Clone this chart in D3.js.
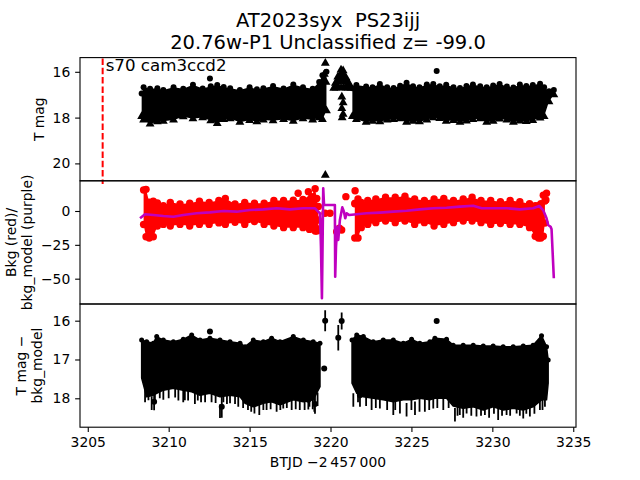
<!DOCTYPE html>
<html><head><meta charset="utf-8">
<script src="https://cdn.jsdelivr.net/npm/d3@7"></script>
<style>body{margin:0;background:#fff} svg{display:block} text{font-family:"DejaVu Sans",sans-serif;white-space:pre}</style>
</head><body>
<svg id="c" width="640" height="480"></svg>
<script>
// ---------------- data ----------------
const titleLines = ["AT2023syx  PS23ijj", "20.76w-P1 Unclassified z= -99.0"];
const sectorLabel = "s70 cam3ccd2";
const xTicks = [3205, 3210, 3215, 3220, 3225, 3230, 3235];
const y1Ticks = [16, 18, 20];
const y2Ticks = [-50, -25, 0];
const y3Ticks = [16, 17, 18];
const xLimits = [3204.52, 3235.17];
const y1Limits = [15.38, 20.76];
const y2Limits = [-68.7, 22.3];
const y3Limits = [15.57, 18.745];

// dashed sector-start line
const vlineT = 3205.92;
const vlineMag = [15.42, 20.9];

// panel 1 : T mag, dense band envelope (bright edge / faint edge)
const p1A_t   = [3208.33, 3208.45, 3208.85, 3209.3, 3209.67, 3210.3, 3210.9, 3211.5, 3212.1, 3212.6, 3213.0, 3213.4, 3213.8, 3214.4, 3215.0, 3215.45, 3215.85, 3216.45, 3217.1, 3217.7, 3218.3, 3218.9, 3219.3, 3219.5, 3219.75];
const p1A_top = [16.95, 16.68, 16.74, 16.72, 16.79, 16.68, 16.74, 16.57, 16.73, 16.63, 16.58, 16.66, 16.72, 16.8, 16.68, 16.76, 16.72, 16.62, 16.73, 16.55, 16.67, 16.74, 16.45, 16.15, 16.0];
const p1A_bot = [17.95, 18.1, 18.28, 18.18, 18.16, 18.1, 17.96, 18.05, 18.0, 18.14, 18.26, 18.08, 18.05, 18.2, 18.12, 18.18, 18.1, 18.14, 18.08, 18.16, 18.05, 18.1, 18.0, 18.08, 17.7];
const p1B_t   = [3221.35, 3221.6, 3222.2, 3222.6, 3223.05, 3223.5, 3223.9, 3224.3, 3224.7, 3225.1, 3225.5, 3225.95, 3226.35, 3226.75, 3227.15, 3227.6, 3228.0, 3228.4, 3228.8, 3229.25, 3229.65, 3230.05, 3230.45, 3230.9, 3231.3, 3231.7, 3232.1, 3232.5, 3232.95, 3233.2, 3233.5, 3233.8];
const p1B_top = [16.72, 16.58, 16.64, 16.68, 16.53, 16.67, 16.71, 16.61, 16.48, 16.63, 16.68, 16.56, 16.53, 16.63, 16.57, 16.68, 16.71, 16.62, 16.56, 16.63, 16.68, 16.6, 16.53, 16.64, 16.69, 16.56, 16.62, 16.58, 16.52, 16.68, 16.85, 16.8];
const p1B_bot = [17.95, 18.08, 18.2, 18.16, 18.18, 18.1, 18.08, 18.05, 18.2, 18.16, 18.18, 18.1, 18.0, 18.04, 18.16, 18.12, 18.2, 18.15, 18.08, 18.05, 18.2, 18.16, 18.06, 18.1, 18.2, 18.15, 18.17, 18.12, 18.02, 17.95, 17.3, 17.0];
// panel 1 : isolated upper limits (triangles) and detections (dots)
const triT   = [3219.68, 3219.68, 3219.62, 3219.72,
                3220.65, 3220.78,
                3220.45, 3220.58, 3220.7, 3220.83, 3220.95,
                3220.3, 3220.42, 3220.55, 3220.68, 3220.8, 3220.92, 3221.05, 3221.15,
                3220.2, 3220.35, 3220.5, 3220.65, 3220.8, 3220.95, 3221.1, 3221.25,
                3220.7, 3220.78, 3220.7, 3220.78, 3220.72];
const triMag = [15.62, 20.51, 16.1, 16.45,
                15.92, 15.95,
                16.22, 16.15, 16.12, 16.15, 16.25,
                16.5, 16.42, 16.4, 16.38, 16.4, 16.42, 16.45, 16.52,
                16.72, 16.7, 16.68, 16.7, 16.68, 16.7, 16.7, 16.72,
                17.1, 17.35, 17.6, 17.85, 18.0];
const p1DotT   = [3212.55, 3226.56];
const p1DotMag = [16.29, 15.97];

// panel 2 : background flux (red) envelope
const p2A_t   = [3208.45, 3208.6, 3208.8, 3209.05, 3209.3, 3209.67, 3210.1, 3210.7, 3211.3, 3211.9, 3212.5, 3213.1, 3213.5, 3214.1, 3214.7, 3215.3, 3215.9, 3216.5, 3217.1, 3217.7, 3218.3, 3218.7, 3219.05, 3219.15, 3219.25];
const p2A_top = [15.5, 16.0, 6.5, 7.2, 5.9, 4.0, 6.4, 5.2, 5.8, 7.3, 6.4, 7.7, 9.3, 5.2, 6.4, 5.8, 5.8, 7.7, 7.7, 8.0, 8.5, 8.3, 16.5, 9.3, 3.3];
const p2A_bot = [-10.0, -19.0, -20.0, -19.0, -11.1, -9.9, -11.1, -9.9, -11.1, -9.9, -9.9, -8.8, -9.9, -8.3, -9.9, -7.8, -9.9, -11.1, -12.3, -12.3, -12.3, -13.6, -14.8, -14.8, -13.3];
const p2B_t   = [3221.5, 3221.7, 3221.9, 3222.3, 3222.8, 3223.4, 3224.0, 3224.6, 3225.2, 3225.8, 3226.4, 3227.0, 3227.6, 3228.2, 3228.75, 3229.3, 3229.9, 3230.5, 3231.1, 3231.7, 3232.3, 3232.65, 3232.85, 3233.0, 3233.15, 3233.25];
const p2B_top = [5.4, 8.9, 6.4, 7.7, 8.9, 10.1, 10.1, 10.9, 8.9, 7.7, 8.9, 9.3, 7.7, 8.9, 10.1, 7.7, 7.7, 6.8, 7.7, 6.8, 5.3, 4.0, 4.0, 5.3, 11.6, 7.3];
const p2B_bot = [-20, -20, -12.3, -9.9, -8.6, -7.4, -8.6, -7.4, -9.9, -8.6, -11.1, -9.9, -8.6, -7.4, -7.4, -8.6, -9.9, -9.3, -9.9, -9.9, -12.3, -18.7, -20, -20, -18.7, -8.9];
const redT = [3218.0, 3218.63, 3218.84, 3219.24, 3219.35, 3219.66, 3219.97, 3220.38, 3220.55, 3220.69, 3220.95, 3221.52, 3221.52, 3233.35, 3233.31];
const redV = [13.1, 14.3, 10.6, -6.6, -14, -1.7, -1.7, -15.3, -12.8, -14, 10.6, 15.0, 5.7, 13.1, 8.1];
// panel 2 : background model (purple)
const bkgT = [3208.23, 3208.54, 3209.05, 3209.67, 3210.29, 3210.9, 3211.73, 3212.55, 3213.38, 3214.2, 3215.02, 3215.85, 3216.67, 3217.5, 3218.32, 3219.04, 3219.24, 3219.35, 3219.41, 3219.47, 3219.55, 3219.6, 3220.27, 3220.29, 3220.34, 3220.42, 3220.48, 3220.58, 3220.73, 3220.83, 3220.91, 3221.0, 3221.16, 3221.62, 3222.23, 3223.05, 3223.88, 3224.7, 3225.52, 3226.35, 3227.17, 3228.0, 3228.82, 3229.34, 3230.05, 3230.88, 3231.7, 3232.52, 3232.9, 3233.14, 3233.35, 3233.45, 3233.6, 3233.66, 3233.8];
const bkgV = [-5.4, -2.4, -3.0, -3.7, -4.2, -3.0, -1.7, -1.0, 0, -0.5, 0.7, 1.2, 2.0, 1.2, 2.0, 2.0, -0.5, -1.7, -26.4, -64.5, 16.8, 4.4, 4.4, -48.5, -26.4, -11.6, -21.4, -6.6, 2.7, -0.5, -5.4, -1.7, -3.0, -2.4, -1.7, -1.2, -0.5, 0.2, 1.2, 2.0, 2.4, 3.2, 3.9, 2.0, 2.0, 2.0, 1.2, 2.0, 3.7, 0.7, -5.4, -10.3, -11.6, -13.5, -49.7];

// panel 3 : T mag - bkg_model, dense error-bar band envelope
const p3A_t   = [3208.33, 3208.64, 3209.05, 3209.26, 3209.67, 3210.29, 3210.9, 3211.42, 3211.94, 3212.55, 3213.17, 3213.79, 3214.41, 3214.72, 3215.23, 3215.85, 3216.36, 3216.88, 3217.7, 3218.32, 3218.93, 3219.35];
const p3A_top = [16.5, 16.54, 16.58, 16.41, 16.5, 16.54, 16.48, 16.37, 16.5, 16.45, 16.5, 16.54, 16.58, 16.67, 16.5, 16.54, 16.45, 16.54, 16.41, 16.5, 16.54, 16.58];
const p3A_bot = [17.48, 17.96, 17.92, 17.87, 17.79, 17.74, 17.79, 17.83, 17.92, 17.87, 17.96, 17.92, 17.96, 18.13, 18.22, 18.13, 18.09, 18.17, 18.04, 18.09, 18.04, 17.7];
const p3B_t   = [3221.33, 3221.62, 3222.03, 3222.64, 3223.26, 3223.88, 3224.5, 3225.01, 3225.52, 3226.14, 3226.45, 3227.17, 3227.58, 3228.2, 3228.82, 3229.44, 3230.05, 3230.67, 3231.29, 3231.91, 3232.52, 3233.04, 3233.35, 3233.45];
const p3B_top = [16.5, 16.37, 16.41, 16.54, 16.5, 16.5, 16.58, 16.48, 16.58, 16.54, 16.45, 16.48, 16.63, 16.63, 16.63, 16.65, 16.65, 16.67, 16.67, 16.65, 16.63, 16.39, 16.67, 17.01];
const p3B_bot = [17.61, 17.87, 17.96, 18.0, 18.04, 18.09, 18.04, 18.04, 18.0, 18.04, 18.0, 18.0, 18.2, 18.26, 18.22, 18.3, 18.22, 18.3, 18.26, 18.3, 18.22, 18.04, 18.04, 17.61];
// panel 3 : faint ends of long error bars
const spikeT   = [3208.54, 3208.75, 3208.95, 3209.15, 3209.45, 3209.67, 3210.0, 3210.4, 3210.6, 3210.9, 3211.0, 3211.2, 3211.62, 3211.8, 3212.0, 3212.25, 3212.65, 3212.9, 3213.17, 3213.38, 3213.6, 3213.79, 3214.1, 3214.3, 3214.6, 3214.9, 3215.1, 3215.3, 3215.6, 3215.85, 3216.05, 3216.3, 3216.67, 3216.9, 3217.08, 3217.3, 3217.6, 3217.85, 3218.1, 3218.4, 3218.7, 3218.9, 3219.0, 3219.2,
                  3221.41, 3221.7, 3222.2, 3222.54, 3222.8, 3223.05, 3223.5, 3223.88, 3224.0, 3224.29, 3224.7, 3225.0, 3225.22, 3225.5, 3225.83, 3226.1, 3226.35, 3226.6, 3226.97, 3227.3, 3227.69, 3227.85, 3227.99, 3228.2, 3228.41, 3228.7, 3229.02, 3229.3, 3229.54, 3229.8, 3230.1, 3230.36, 3230.6, 3230.88, 3231.1, 3231.5, 3231.7, 3231.91, 3232.1, 3232.32, 3232.6, 3232.94, 3233.1, 3233.25];
const spikeMag = [18.1, 18.05, 18.3, 18.12, 18.0, 18.04, 18.0, 17.98, 18.06, 18.1, 18.05, 18.06, 18.15, 18.06, 18.1, 18.1, 18.1, 18.12, 18.51, 18.1, 18.15, 18.13, 18.15, 18.22, 18.25, 18.3, 18.35, 18.39, 18.43, 18.3, 18.3, 18.28, 18.35, 18.3, 18.26, 18.25, 18.3, 18.28, 18.3, 18.3, 18.22, 18.28, 18.35, 18.2,
                  18.22, 18.1, 18.2, 18.3, 18.25, 18.26, 18.3, 18.43, 18.3, 18.39, 18.47, 18.3, 18.43, 18.35, 18.35, 18.3, 18.26, 18.25, 18.3, 18.25, 18.6, 18.45, 18.43, 18.5, 18.39, 18.45, 18.47, 18.45, 18.43, 18.5, 18.4, 18.56, 18.45, 18.43, 18.45, 18.39, 18.45, 18.52, 18.4, 18.47, 18.4, 18.3, 18.3, 18.22];
// panel 3 : isolated points with error bars
const ebT   = [3219.67, 3220.69, 3220.48, 3219.61, 3226.56, 3212.55, 3221.82, 3219.04, 3218.63, 3209.1, 3213.28];
const ebMag = [16.0, 16.01, 16.44, 17.23, 16.01, 16.28, 17.92, 18.15, 18.04, 18.09, 18.22];
const ebErr = [0.27, 0.22, 0.33, 0.05, 0.03, 0.04, 0.3, 0.25, 0.25, 0.22, 0.28];

// ---------------- drawing ----------------
const L = 80, R = 576;
const P = [[57.6, 180.8], [180.8, 304], [304, 427.2]];
const FS = 13.9;
const svg = d3.select('#c');
const x = d3.scaleLinear().domain(xLimits).range([L, R]);
const y1 = d3.scaleLinear().domain(y1Limits).range([P[0][0], P[0][1]]);
const y2 = d3.scaleLinear().domain(y2Limits).range([P[1][1], P[1][0]]);
const y3 = d3.scaleLinear().domain(y3Limits).range([P[2][0], P[2][1]]);

const defs = svg.append('defs');
P.forEach((p, i) => defs.append('clipPath').attr('id', 'cp' + i).append('rect')
  .attr('x', L).attr('y', p[0]).attr('width', R - L).attr('height', p[1] - p[0]));

const seg = (t, a, b) => t.map((v, i) => ({t: v, a: a[i], b: b[i]}));
const pts = (t, m) => t.map((v, i) => ({t: v, m: m[i]}));

// panel 1
const g1 = svg.append('g').attr('clip-path', 'url(#cp0)');
const p1A = seg(p1A_t, p1A_top, p1A_bot), p1B = seg(p1B_t, p1B_top, p1B_bot);
const ar1 = d3.area().x(d => x(d.t)).y0(d => y1(d.a)).y1(d => y1(d.b));
[p1A, p1B].forEach(s => g1.append('path').attr('d', ar1(s)).attr('fill', '#000'));
const p1all = p1A.concat(p1B);
g1.append('g').selectAll('circle').data(p1all).enter().append('circle')
  .attr('cx', d => x(d.t)).attr('cy', d => y1(d.a)).attr('r', 3).attr('fill', '#000');
const triSym = d3.symbol().type(d3.symbolTriangle).size(34);
g1.append('g').selectAll('path').data(p1all).enter().append('path')
  .attr('d', triSym).attr('transform', d => `translate(${x(d.t)},${y1(d.b)})`).attr('fill', '#000');
g1.append('g').selectAll('path').data(pts(triT, triMag)).enter().append('path')
  .attr('d', triSym).attr('transform', d => `translate(${x(d.t)},${y1(d.m)})`).attr('fill', '#000');
g1.append('g').selectAll('circle').data(pts(p1DotT, p1DotMag)).enter().append('circle')
  .attr('cx', d => x(d.t)).attr('cy', d => y1(d.m)).attr('r', 3).attr('fill', '#000');

// panel 2
const g2 = svg.append('g').attr('clip-path', 'url(#cp1)');
const p2A = seg(p2A_t, p2A_top, p2A_bot), p2B = seg(p2B_t, p2B_top, p2B_bot);
const ar2 = d3.area().x(d => x(d.t)).y0(d => y2(d.a)).y1(d => y2(d.b));
[p2A, p2B].forEach(s => g2.append('path').attr('d', ar2(s)).attr('fill', '#ff0000'));
const p2all = p2A.concat(p2B);
['a', 'b'].forEach(k => g2.append('g').selectAll('circle').data(p2all).enter().append('circle')
  .attr('cx', d => x(d.t)).attr('cy', d => y2(d[k])).attr('r', 3.7).attr('fill', '#ff0000'));
g2.append('g').selectAll('circle').data(pts(redT, redV)).enter().append('circle')
  .attr('cx', d => x(d.t)).attr('cy', d => y2(d.m)).attr('r', 3.7).attr('fill', '#ff0000');
g2.append('path').datum(pts(bkgT, bkgV))
  .attr('d', d3.line().x(d => x(d.t)).y(d => y2(d.m)))
  .attr('fill', 'none').attr('stroke', '#bf00bf').attr('stroke-width', 2.6).attr('stroke-linejoin', 'round');

// panel 3
const g3 = svg.append('g').attr('clip-path', 'url(#cp2)');
const p3A = seg(p3A_t, p3A_top, p3A_bot), p3B = seg(p3B_t, p3B_top, p3B_bot);
const ar3 = d3.area().x(d => x(d.t)).y0(d => y3(d.a)).y1(d => y3(d.b));
[p3A, p3B].forEach(s => g3.append('path').attr('d', ar3(s)).attr('fill', '#000')
  .attr('stroke', '#000').attr('stroke-width', 1.5).attr('stroke-linejoin', 'round'));
g3.append('g').selectAll('circle').data(p3A.concat(p3B)).enter().append('circle')
  .attr('cx', d => x(d.t)).attr('cy', d => y3(d.a)).attr('r', 2.5).attr('fill', '#000');
g3.append('g').selectAll('line').data(pts(spikeT, spikeMag)).enter().append('line')
  .attr('x1', d => x(d.t)).attr('x2', d => x(d.t))
  .attr('y1', d => y3(d.m - 0.35)).attr('y2', d => y3(d.m))
  .attr('stroke', '#000').attr('stroke-width', 1.8);
const eb = ebT.map((t, i) => ({t, m: ebMag[i], e: ebErr[i]}));
g3.append('g').selectAll('line').data(eb).enter().append('line')
  .attr('x1', d => x(d.t)).attr('x2', d => x(d.t))
  .attr('y1', d => y3(d.m - d.e)).attr('y2', d => y3(d.m + d.e))
  .attr('stroke', '#000').attr('stroke-width', 1.8);
g3.append('g').selectAll('circle').data(eb).enter().append('circle')
  .attr('cx', d => x(d.t)).attr('cy', d => y3(d.m)).attr('r', 3).attr('fill', '#000');

// dashed line and sector text
svg.append('line').attr('x1', x(vlineT)).attr('x2', x(vlineT))
  .attr('y1', y1(vlineMag[0])).attr('y2', y1(vlineMag[1]))
  .attr('stroke', '#ff0000').attr('stroke-width', 2).attr('stroke-dasharray', '6.5,2.8');
svg.append('text').attr('x', x(vlineT) + 3).attr('y', y1(15.95))
  .attr('font-size', 16.67).text(sectorLabel);

// spines
P.forEach(p => svg.append('rect').attr('x', L).attr('y', p[0]).attr('width', R - L).attr('height', p[1] - p[0])
  .attr('fill', 'none').attr('stroke', '#000').attr('stroke-width', 1.1));

// axes
function styleAxis(g) {
  g.select('.domain').remove();
  g.attr('font-size', FS).attr('font-family', '"DejaVu Sans", sans-serif');
  g.selectAll('.tick line').attr('stroke-width', 1.1);
}
[[y1, y1Ticks], [y2, y2Ticks], [y3, y3Ticks]].forEach(([s, t]) => {
  svg.append('g').attr('transform', `translate(${L},0)`)
    .call(d3.axisLeft(s).tickValues(t).tickFormat(d3.format('d')).tickSize(4.86).tickPadding(4.86))
    .call(styleAxis);
});
svg.append('g').attr('transform', `translate(0,${P[2][1]})`)
  .call(d3.axisBottom(x).tickValues(xTicks).tickFormat(d3.format('d')).tickSize(4.86).tickPadding(4.86))
  .call(styleAxis)
  .call(g => g.selectAll('text').attr('dy', '0.76em'));

// labels
function vlabel(lines, xs, cy) {
  lines.forEach((s, i) => svg.append('text').attr('transform', `translate(${xs[i]},${cy}) rotate(-90)`)
    .attr('text-anchor', 'middle').attr('font-size', FS).text(s));
}
vlabel(["T mag"], [43.5], (P[0][0] + P[0][1]) / 2);
vlabel(["Bkg (red)/", "bkg_model (purple)"], [15.5, 31.5], (P[1][0] + P[1][1]) / 2);
vlabel(["T mag \u2212", "bkg_model"], [25.5, 41.8], (P[2][0] + P[2][1]) / 2);
svg.append('text').attr('x', (L + R) / 2).attr('y', 467).attr('text-anchor', 'middle')
  .attr('font-size', FS).text("BTJD \u22122\u2009457\u2009000");
titleLines.forEach((s, i) => svg.append('text').attr('x', (L + R) / 2).attr('y', 26.5 + 22 * i)
  .attr('text-anchor', 'middle').attr('font-size', 19.5).text(s));
</script></body></html>
